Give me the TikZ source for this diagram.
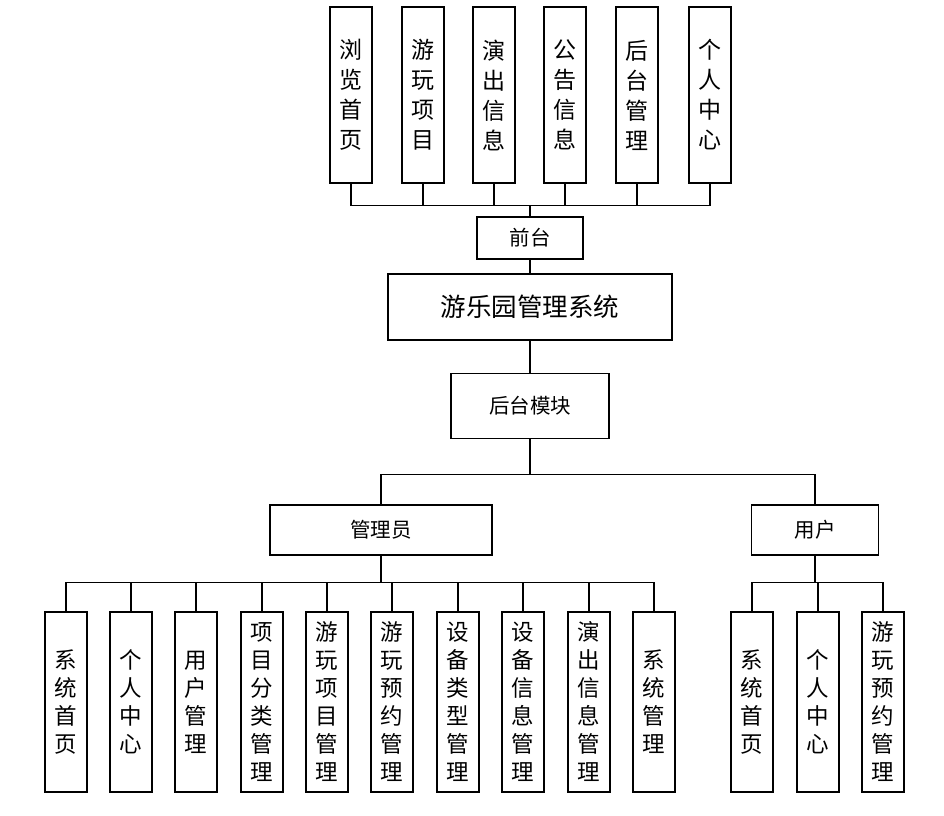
\documentclass[tikz,border=0pt]{standalone}
\usepackage{fontspec}
\newfontfamily\cjk{Noto Sans CJK SC}

\tikzset{
  box/.style = {draw, line width = 1.4pt, inner sep = 0pt,
    font = \cjk\fontsize{20.5}{20.5}\selectfont},
  tallbox/.style = {box, minimum width = 42pt, minimum height = 176pt,
    align = center, font = \cjk\fontsize{23}{30}\selectfont},
  leafbox/.style = {box, minimum width = 42pt, minimum height = 180pt,
    align = center, font = \cjk\fontsize{22.5}{28}\selectfont},
  link/.style = {line width = 1.4pt}
}

\begin{document}
\begin{tikzpicture}[x = 1pt, y = -1pt]
  \useasboundingbox (0, 0) rectangle (944, 815);

  % middle column
  \node[box, minimum width = 106pt, minimum height = 42pt] (front) at (530, 238) {前台};
  \node[box, minimum width = 284pt, minimum height = 66pt,
    font = \cjk\fontsize{25.5}{25.5}\selectfont] (sys) at (530, 307) {游乐园管理系统};
  \node[box, minimum width = 158pt, minimum height = 65pt] (back) at (530, 406) {后台模块};
  \node[box, minimum width = 222pt, minimum height = 50pt] (admin) at (381, 530) {管理员};
  \node[box, minimum width = 127pt, minimum height = 50pt] (user) at (815, 530) {用户};

  % front pages
  \foreach \x/\n/\t in {351/f1/{浏\\览\\首\\页}, 423/f2/{游\\玩\\项\\目},
    494/f3/{演\\出\\信\\息}, 565/f4/{公\\告\\信\\息},
    637/f5/{后\\台\\管\\理}, 710/f6/{个\\人\\中\\心}} {
    \node[tallbox] (\n) at (\x, 95) {\t};
    \draw[link] (\n.south) -- ++(0, 22) -| (front.north);
  }

  % admin pages
  \foreach \x/\n/\t in {66/a1/{系\\统\\首\\页}, 131/a2/{个\\人\\中\\心},
    196/a3/{用\\户\\管\\理}, 262/a4/{项\\目\\分\\类\\管\\理},
    327/a5/{游\\玩\\项\\目\\管\\理}, 392/a6/{游\\玩\\预\\约\\管\\理},
    458/a7/{设\\备\\类\\型\\管\\理}, 523/a8/{设\\备\\信\\息\\管\\理},
    589/a9/{演\\出\\信\\息\\管\\理}, 654/a10/{系\\统\\管\\理}} {
    \node[leafbox] (\n) at (\x, 702) {\t};
    \draw[link] (admin.south) -- ++(0, 27) -| (\n.north);
  }

  % user pages
  \foreach \x/\n/\t in {752/u1/{系\\统\\首\\页}, 818/u2/{个\\人\\中\\心},
    883/u3/{游\\玩\\预\\约\\管\\理}} {
    \node[leafbox] (\n) at (\x, 702) {\t};
    \draw[link] (user.south) -- ++(0, 27) -| (\n.north);
  }

  \draw[link] (front.south) -- (sys.north);
  \draw[link] (sys.south) -- (back.north);
  \draw[link] (back.south) -- ++(0, 35) -| (admin.north);
  \draw[link] (back.south) -- ++(0, 35) -| (user.north);
\end{tikzpicture}
\end{document}
